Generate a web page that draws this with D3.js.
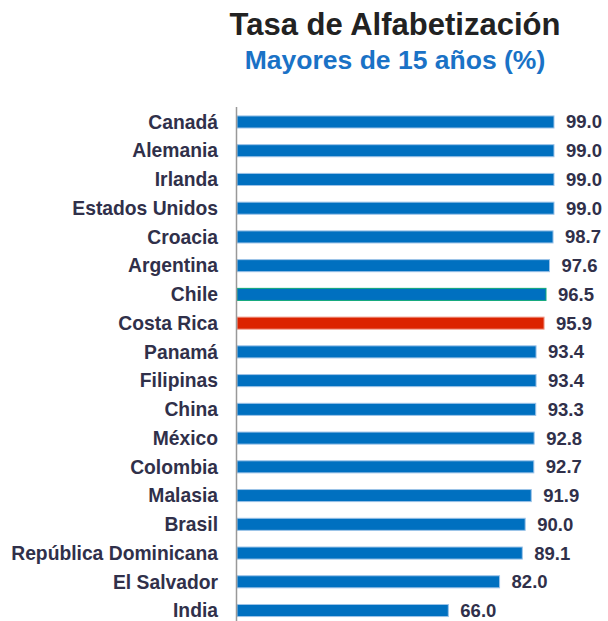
<!DOCTYPE html>
<html>
<head>
<meta charset="utf-8">
<script src="https://cdn.jsdelivr.net/npm/d3@7"></script>
<style>
  body { margin: 0; background: #fff; }
  text { font-family: "Liberation Sans", Arial, sans-serif; font-weight: bold; }
</style>
</head>
<body>
<div id="chart"></div>
<script>
// data
var countries = ["Canadá", "Alemania", "Irlanda", "Estados Unidos", "Croacia", "Argentina",
  "Chile", "Costa Rica", "Panamá", "Filipinas", "China", "México", "Colombia", "Malasia",
  "Brasil", "República Dominicana", "El Salvador", "India"];
var rates = [99.0, 99.0, 99.0, 99.0, 98.7, 97.6, 96.5, 95.9, 93.4, 93.4, 93.3, 92.8, 92.7,
  91.9, 90.0, 89.1, 82.0, 66.0];
var highlight = {"Chile": "chile", "Costa Rica": "cr"};

var width = 608, height = 621;

var svg = d3.select("#chart")
  .append("svg")
    .attr("width", width)
    .attr("height", height);

// title
svg.append("text")
  .attr("x", 395)
  .attr("y", 35)
  .attr("text-anchor", "middle")
  .style("font-size", "31px")
  .attr("fill", "#222222")
  .text("Tasa de Alfabetización");

svg.append("text")
  .attr("x", 395)
  .attr("y", 69)
  .attr("text-anchor", "middle")
  .style("font-size", "26.5px")
  .attr("fill", "#1a72c6")
  .text("Mayores de 15 años (%)");

var x = d3.scaleLinear()
  .domain([0, 100])
  .range([237, 557.2]);

var y = d3.scaleBand()
  .domain(countries)
  .range([107.6, 624.9])
  .paddingInner(0.58)
  .paddingOuter(0.29);

var fillFor = function(c) {
  if (highlight[c] == "cr") return "#dc2300";
  return "#0070c0";
};
var strokeFor = function(c) {
  if (highlight[c] == "cr") return "#f0a090";
  if (highlight[c] == "chile") return "#10a878";
  return "#9cc3e8";
};

// bars
svg.selectAll("rect.bar")
  .data(countries)
  .enter()
  .append("rect")
    .attr("class", "bar")
    .attr("x", x(0))
    .attr("y", function(d) { return y(d); })
    .attr("width", function(d, i) { return x(rates[i]) - x(0); })
    .attr("height", y.bandwidth())
    .attr("fill", fillFor)
    .attr("stroke", strokeFor)
    .attr("stroke-width", 1);

// axis line
svg.append("line")
  .attr("x1", 236.5).attr("x2", 236.5)
  .attr("y1", 107).attr("y2", height)
  .attr("stroke", "#999999")
  .attr("stroke-width", 1.5);

// category labels
svg.selectAll("text.cat")
  .data(countries)
  .enter()
  .append("text")
    .attr("class", "cat")
    .attr("x", 218)
    .attr("y", function(d) { return y(d) + y.bandwidth() / 2; })
    .attr("dy", "0.35em")
    .attr("text-anchor", "end")
    .style("font-size", "19.3px")
    .attr("fill", "#30304a")
    .text(function(d) { return d; });

// value labels
svg.selectAll("text.val")
  .data(countries)
  .enter()
  .append("text")
    .attr("class", "val")
    .attr("x", function(d, i) { return x(rates[i]) + 12; })
    .attr("y", function(d) { return y(d) + y.bandwidth() / 2; })
    .attr("dy", "0.35em")
    .style("font-size", "18.5px")
    .attr("fill", "#30304a")
    .text(function(d, i) { return rates[i].toFixed(1); });
</script>
</body>
</html>
